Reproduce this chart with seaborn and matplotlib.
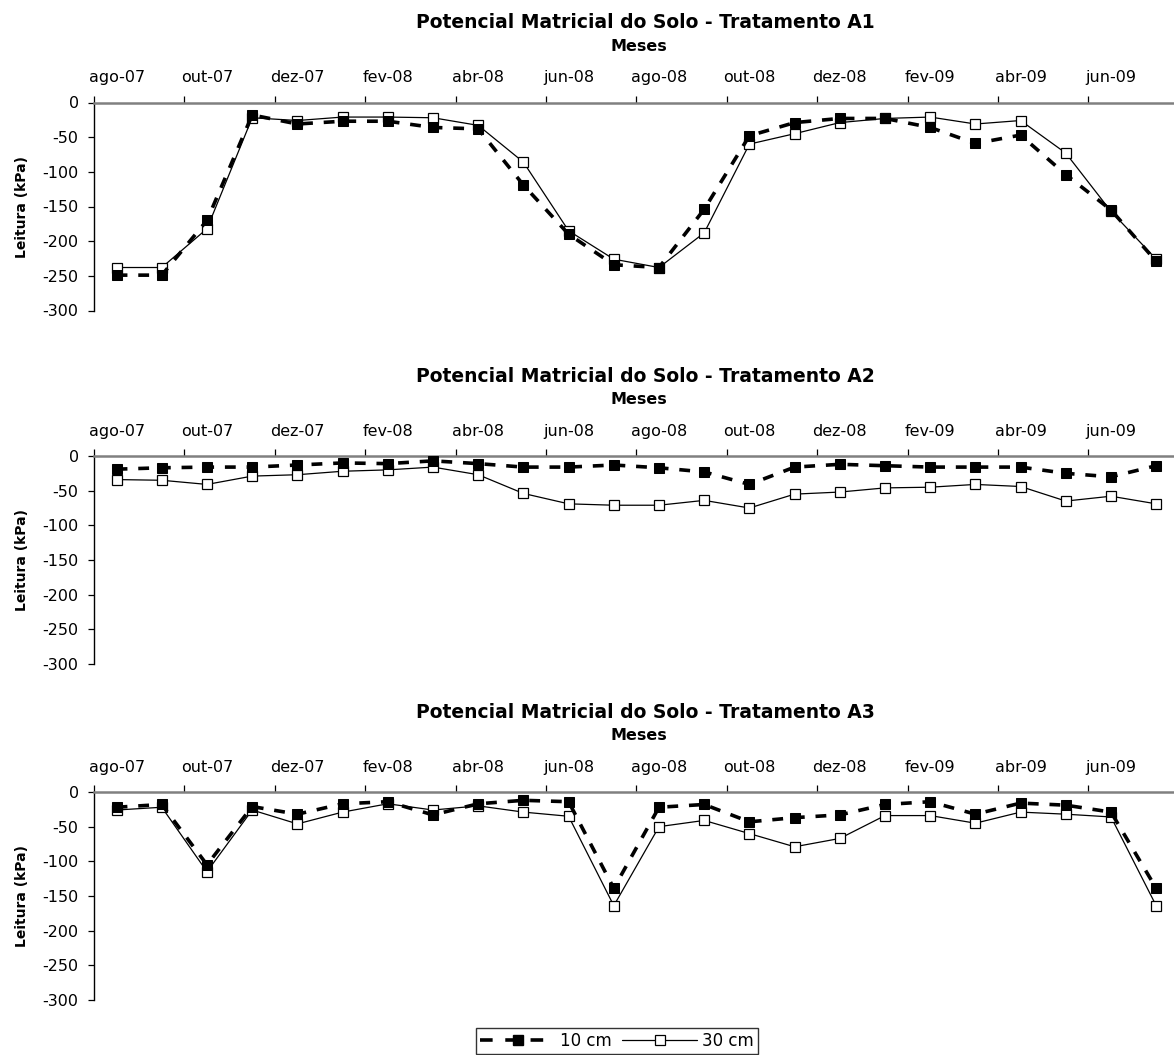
import numpy as np
import pandas as pd
import matplotlib
matplotlib.use("Agg")
import matplotlib.pyplot as plt
import seaborn as sns
from matplotlib.lines import Line2D

# ---------------- data ----------------
months = ["ago-07", "set-07", "out-07", "nov-07", "dez-07", "jan-08", "fev-08", "mar-08",
          "abr-08", "mai-08", "jun-08", "jul-08", "ago-08", "set-08", "out-08", "nov-08",
          "dez-08", "jan-09", "fev-09", "mar-09", "abr-09", "mai-09", "jun-09", "jul-09"]

a1_10cm = [-249, -249, -170, -18, -31, -27, -27, -36, -38, -119, -190, -234,
           -238, -154, -48, -29, -23, -23, -36, -59, -47, -104, -155, -229]
a1_30cm = [-238, -238, -182, -22, -26, -21, -21, -22, -33, -86, -185, -226,
           -238, -188, -60, -45, -29, -23, -21, -31, -26, -73, -157, -226]

a2_10cm = [-19, -17, -16, -16, -13, -10, -11, -7, -11, -16, -16, -13,
           -17, -23, -41, -16, -12, -14, -16, -16, -16, -25, -30, -14]
a2_30cm = [-34, -35, -41, -29, -27, -22, -20, -16, -27, -54, -69, -71,
           -71, -64, -75, -55, -52, -46, -45, -41, -44, -65, -58, -69]

a3_10cm = [-22, -18, -105, -21, -32, -17, -14, -33, -17, -12, -14, -139,
           -22, -18, -43, -37, -33, -18, -14, -32, -16, -19, -29, -139]
a3_30cm = [-26, -22, -115, -26, -46, -29, -17, -26, -20, -29, -35, -164,
           -50, -41, -60, -79, -67, -34, -34, -45, -29, -32, -36, -164]

titles = ["Potencial Matricial do Solo - Tratamento A1",
          "Potencial Matricial do Solo - Tratamento A2",
          "Potencial Matricial do Solo - Tratamento A3"]
series_labels = ["10 cm", "30 cm"]
yticks = [0, -50, -100, -150, -200, -250, -300]

panels = [(a1_10cm, a1_30cm), (a2_10cm, a2_30cm), (a3_10cm, a3_30cm)]

# ---------------- style ----------------
sns.set_style("white")
plt.rcParams["font.family"] = ["DejaVu Sans"]
plt.rcParams["axes.unicode_minus"] = False
plt.rcParams["text.color"] = "black"
plt.rcParams["axes.labelcolor"] = "black"
plt.rcParams["xtick.color"] = "black"
plt.rcParams["ytick.color"] = "black"

W, H = 1174, 1055
fig = plt.figure(figsize=(W / 100, H / 100), dpi=100)

ax_left = 94
zero_lines = [102.5, 456, 792]
ax_h = 208
n = len(months)
x_pos = np.arange(n) + 0.5

for (v10, v30), title, y0 in zip(panels, titles, zero_lines):
    ax = fig.add_axes([ax_left / W, 1 - (y0 + ax_h) / H, (W - ax_left) / W, ax_h / H])
    df = pd.DataFrame({"x": x_pos, "mes": months, "v10": v10, "v30": v30})

    sns.lineplot(data=df, x="x", y="v30", ax=ax, color="black", lw=0.9,
                 marker="s", markersize=7.5, markerfacecolor="white",
                 markeredgecolor="black", markeredgewidth=0.9, zorder=3)
    sns.lineplot(data=df, x="x", y="v10", ax=ax, color="black", lw=2.6,
                 linestyle=(0, (3, 3)), marker="s", markersize=7.5,
                 markerfacecolor="black", markeredgecolor="black", zorder=4)

    ax.set_xlim(0, (W - ax_left) / 45.2)
    ax.set_ylim(-300, 0)
    ax.set_xlabel("")
    ax.set_ylabel("")

    ax.xaxis.tick_top()
    ax.set_xticks(np.arange(0, n - 1, 2))
    ax.set_xticklabels([""] * len(np.arange(0, n - 1, 2)))
    ax.set_xticks(x_pos[::2], minor=True)
    ax.set_xticklabels(months[::2], minor=True)
    ax.tick_params(axis="x", which="major", top=True, bottom=False, length=5,
                   width=0.9, color="black", direction="out")
    ax.tick_params(axis="x", which="minor", top=True, bottom=False, labeltop=True,
                   labelbottom=False, length=0, pad=12.5, labelsize=11.5,
                   labelcolor="black")

    ax.set_yticks(yticks)
    ax.set_yticklabels([str(v) for v in yticks])
    ax.tick_params(axis="y", which="major", left=True, length=4, width=0.9,
                   color="black", direction="out", pad=7, labelsize=11.5,
                   labelcolor="black")

    for side in ["bottom", "right"]:
        ax.spines[side].set_visible(False)
    ax.spines["top"].set_color("#808080")
    ax.spines["top"].set_linewidth(1.8)
    ax.spines["left"].set_color("black")
    ax.spines["left"].set_linewidth(1.0)
    ax.grid(False)

    ax.text(-72 / (W - ax_left), 0.5, "Leitura (kPa)", rotation=90, ha="center",
            va="center", fontsize=10, fontweight="bold", color="black",
            transform=ax.transAxes)

    fig.text(645 / W, 1 - (y0 - 80) / H, title, ha="center", va="center",
             fontsize=13.5, fontweight="bold", color="black")
    fig.text(639 / W, 1 - (y0 - 56) / H, "Meses", ha="center", va="center",
             fontsize=11.5, fontweight="bold", color="black")

handles = [
    Line2D([], [], color="black", lw=2.6, ls=(0, (3.5, 3.5)), marker="s", ms=7.5,
           mfc="black", mec="black"),
    Line2D([], [], color="black", lw=0.9, marker="s", ms=7.5, mfc="white",
           mec="black", mew=0.9),
]
leg = fig.legend(handles, series_labels, loc="center",
                 bbox_to_anchor=(617 / W, 1 - 1041 / H), ncol=2, frameon=True,
                 fancybox=False, edgecolor="black", fontsize=12, handlelength=4.5,
                 handletextpad=0.3, columnspacing=0.6, borderpad=0.25)
leg.get_frame().set_linewidth(1.0)
for t in leg.get_texts():
    t.set_color("black")

fig.savefig("out.png", dpi=100, facecolor="white")
